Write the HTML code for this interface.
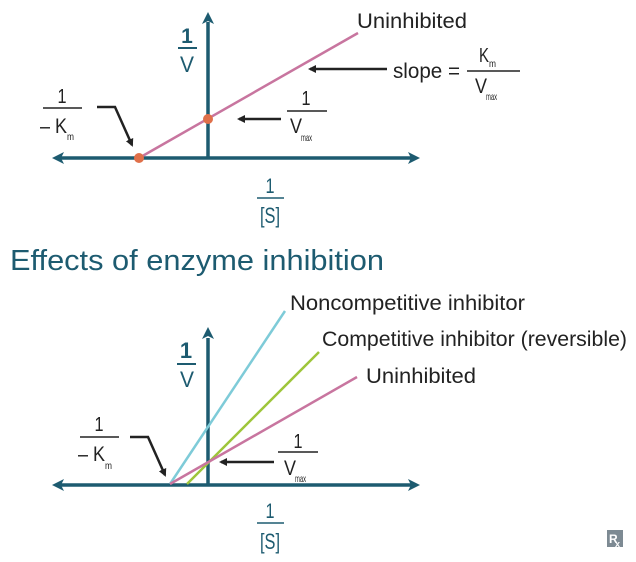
<!DOCTYPE html>
<html><head><meta charset="utf-8"><style>
html,body{margin:0;padding:0;background:#fff;}
svg{display:block;}
text{font-family:"Liberation Sans",sans-serif;}
.t{fill:#1d5b70;}
.k{fill:#222;}
</style></head><body>
<svg width="636" height="562" viewBox="0 0 636 562">
<defs>
<marker id="ah" markerWidth="8" markerHeight="8" refX="6" refY="4" orient="auto" markerUnits="userSpaceOnUse"><path d="M0,0 L8,4 L0,8 Z" fill="#222"/></marker>
</defs>
<!-- TOP GRAPH -->
<g stroke="#1d5b70" stroke-width="3.5" fill="none">
<line x1="60" y1="158" x2="412" y2="158"/>
<line x1="208" y1="158" x2="208" y2="22"/>
</g>
<g fill="#1d5b70">
<path d="M52,158 L64,152 L61,158 L64,164 Z"/>
<path d="M420,158 L408,152 L411,158 L408,164 Z"/>
<path d="M208,12 L202,24 L208,21 L214,24 Z"/>
</g>
<line x1="139" y1="158" x2="358" y2="33" stroke="#c8759f" stroke-width="2.5"/>
<circle cx="139" cy="158" r="5" fill="#e0704a"/>
<circle cx="208" cy="119" r="5" fill="#e0704a"/>
<text class="t" x="187" y="43" font-size="21" text-anchor="middle" font-weight="bold">1</text>
<line x1="178" y1="48" x2="197" y2="48" stroke="#1d5b70" stroke-width="2"/>
<text class="t" x="187" y="72" font-size="22" text-anchor="middle" textLength="14" lengthAdjust="spacingAndGlyphs">V</text>
<text class="k" x="357" y="28" font-size="21" textLength="110" lengthAdjust="spacingAndGlyphs">Uninhibited</text>
<line x1="387" y1="69" x2="310" y2="69" stroke="#222" stroke-width="2.5" marker-end="url(#ah)"/>
<text class="k" x="393" y="78" font-size="21" textLength="67" lengthAdjust="spacingAndGlyphs">slope =</text>
<text class="k" x="479" y="62" font-size="20" textLength="10" lengthAdjust="spacingAndGlyphs">K</text>
<text class="k" x="489" y="67" font-size="10" textLength="7" lengthAdjust="spacingAndGlyphs">m</text>
<line x1="467" y1="71" x2="520" y2="71" stroke="#222" stroke-width="1.5"/>
<text class="k" x="475" y="93" font-size="21" textLength="12" lengthAdjust="spacingAndGlyphs">V</text>
<text class="k" x="486" y="100" font-size="10" textLength="11" lengthAdjust="spacingAndGlyphs">max</text>
<!-- 1/Vmax top -->
<text class="k" x="306" y="105" font-size="20" text-anchor="middle" textLength="9" lengthAdjust="spacingAndGlyphs">1</text>
<line x1="287" y1="111" x2="327" y2="111" stroke="#222" stroke-width="1.5"/>
<text class="k" x="290" y="133" font-size="21" textLength="12" lengthAdjust="spacingAndGlyphs">V</text>
<text class="k" x="301" y="141" font-size="10" textLength="11" lengthAdjust="spacingAndGlyphs">max</text>
<line x1="281" y1="119" x2="239" y2="119" stroke="#222" stroke-width="2.5" marker-end="url(#ah)"/>
<!-- 1/-Km top -->
<text class="k" x="62" y="103" font-size="20" text-anchor="middle" textLength="9" lengthAdjust="spacingAndGlyphs">1</text>
<line x1="43" y1="108" x2="82" y2="108" stroke="#222" stroke-width="1.5"/>
<text class="k" x="40" y="133" font-size="21" textLength="27" lengthAdjust="spacingAndGlyphs">– K</text>
<text class="k" x="67" y="140" font-size="10" textLength="7" lengthAdjust="spacingAndGlyphs">m</text>
<polyline points="97,107 115,107 132,145" fill="none" stroke="#222" stroke-width="2.5" marker-end="url(#ah)"/>
<!-- 1/[S] top -->
<text class="t" x="270" y="193" font-size="21" text-anchor="middle" textLength="9" lengthAdjust="spacingAndGlyphs">1</text>
<line x1="257" y1="198" x2="284" y2="198" stroke="#1d5b70" stroke-width="1.5"/>
<text class="t" x="270" y="223" font-size="22" text-anchor="middle" textLength="20" lengthAdjust="spacingAndGlyphs">[S]</text>
<!-- title -->
<text class="t" x="10" y="270" font-size="29" textLength="374" lengthAdjust="spacingAndGlyphs">Effects of enzyme inhibition</text>
<!-- BOTTOM GRAPH -->
<g stroke="#1d5b70" stroke-width="3.5" fill="none">
<line x1="60" y1="485" x2="412" y2="485"/>
<line x1="208" y1="485" x2="208" y2="338"/>
</g>
<g fill="#1d5b70">
<path d="M52,485 L64,479 L61,485 L64,491 Z"/>
<path d="M420,485 L408,479 L411,485 L408,491 Z"/>
<path d="M208,327 L202,339 L208,336 L214,339 Z"/>
</g>
<line x1="170" y1="484" x2="285" y2="311" stroke="#7ecbd8" stroke-width="2.5"/>
<line x1="187" y1="484" x2="319" y2="352" stroke="#9ec53a" stroke-width="2.5"/>
<line x1="170" y1="484" x2="357" y2="377" stroke="#c8759f" stroke-width="2.5"/>
<text class="k" x="290" y="310" font-size="21" textLength="235" lengthAdjust="spacingAndGlyphs">Noncompetitive inhibitor</text>
<text class="k" x="322" y="346" font-size="21" textLength="305" lengthAdjust="spacingAndGlyphs">Competitive inhibitor (reversible)</text>
<text class="k" x="366" y="383" font-size="21" textLength="110" lengthAdjust="spacingAndGlyphs">Uninhibited</text>
<text class="t" x="186" y="358" font-size="22" text-anchor="middle" font-weight="bold">1</text>
<line x1="177" y1="364" x2="196" y2="364" stroke="#1d5b70" stroke-width="2"/>
<text class="t" x="187" y="387" font-size="22" text-anchor="middle" textLength="14" lengthAdjust="spacingAndGlyphs">V</text>
<text class="k" x="99" y="431" font-size="20" text-anchor="middle" textLength="9" lengthAdjust="spacingAndGlyphs">1</text>
<line x1="80" y1="437" x2="119" y2="437" stroke="#222" stroke-width="1.5"/>
<text class="k" x="78" y="461" font-size="21" textLength="27" lengthAdjust="spacingAndGlyphs">– K</text>
<text class="k" x="105" y="469" font-size="10" textLength="7" lengthAdjust="spacingAndGlyphs">m</text>
<polyline points="130,437 148,437 165,475" fill="none" stroke="#222" stroke-width="2.5" marker-end="url(#ah)"/>
<text class="k" x="298" y="448" font-size="20" text-anchor="middle" textLength="9" lengthAdjust="spacingAndGlyphs">1</text>
<line x1="278" y1="452" x2="318" y2="452" stroke="#222" stroke-width="1.5"/>
<text class="k" x="284" y="475" font-size="21" textLength="12" lengthAdjust="spacingAndGlyphs">V</text>
<text class="k" x="295" y="482" font-size="10" textLength="11" lengthAdjust="spacingAndGlyphs">max</text>
<line x1="274" y1="462" x2="221" y2="462" stroke="#222" stroke-width="2.5" marker-end="url(#ah)"/>
<text class="t" x="270" y="518" font-size="21" text-anchor="middle" textLength="9" lengthAdjust="spacingAndGlyphs">1</text>
<line x1="257" y1="523" x2="284" y2="523" stroke="#1d5b70" stroke-width="1.5"/>
<text class="t" x="270" y="549" font-size="22" text-anchor="middle" textLength="20" lengthAdjust="spacingAndGlyphs">[S]</text>
<rect x="607" y="530" width="16" height="17" fill="#7d8a93"/>
<text x="609" y="543" font-size="12" fill="#fff" font-weight="bold">R</text>
<text x="615" y="547" font-size="9" fill="#fff" font-weight="bold">x</text>
</svg>
</body></html>
